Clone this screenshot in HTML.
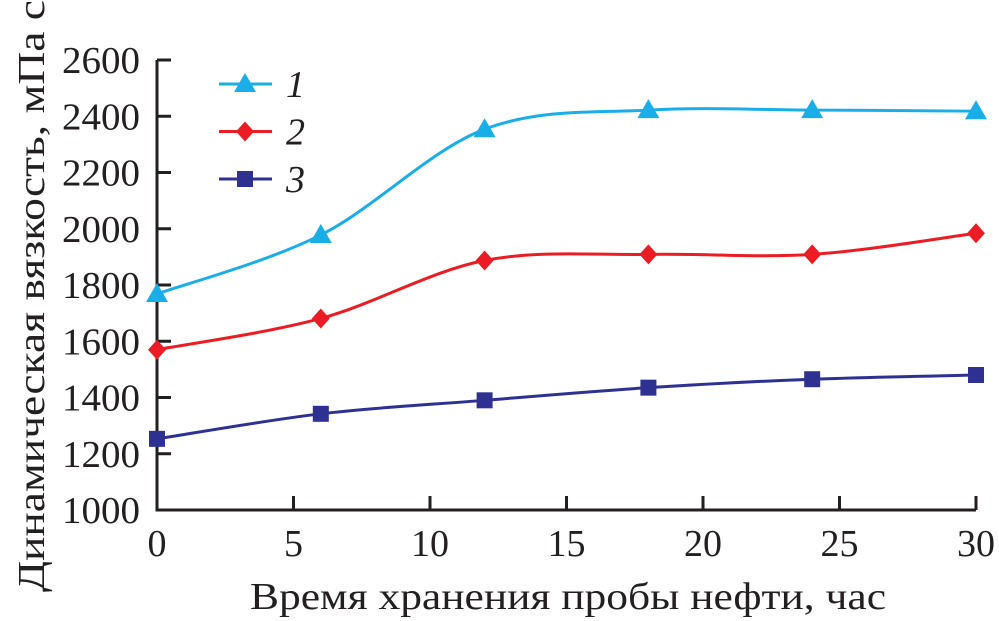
<!DOCTYPE html>
<html><head><meta charset="utf-8"><style>
html,body{margin:0;padding:0;background:#fff;overflow:hidden;}
svg{display:block;font-family:"Liberation Serif","DejaVu Serif",serif;}
</style></head><body>
<svg width="999" height="621" viewBox="0 0 999 621">
<g id="axes"></g>
<g id="series"></g>
<g id="legend"></g>
<text x="250" y="609" font-size="38" textLength="636" lengthAdjust="spacingAndGlyphs" fill="#231f20">Время хранения пробы нефти, час</text>
<text transform="translate(44,592) rotate(-90)" font-size="38" textLength="592" lengthAdjust="spacingAndGlyphs" fill="#231f20">Динамическая вязкость, мПа с</text>
</svg>
<script>
const xValues=[0,6,12,18,24,30];
const series1=[1768,1978,2354,2422,2422,2418];
const series2=[1570,1681,1887,1909,1909,1984];
const series3=[1253,1342,1390,1435,1465,1480];
const xTicks=[0,5,10,15,20,25,30];
const yTicks=[1000,1200,1400,1600,1800,2000,2200,2400,2600];
const legendLabels=["1","2","3"];
const colors=["#1aaee8","#ec1c24","#2e3192"];
const NS="http://www.w3.org/2000/svg";
const X0=157,X1=976,Y0=510,Y1=60;
const sx=v=>X0+(v-0)/30*(X1-X0);
const sy=v=>Y0-(v-1000)/1600*(Y0-Y1);
function mk(t,a,p){const e=document.createElementNS(NS,t);for(const k in a)e.setAttribute(k,a[k]);p.appendChild(e);return e;}
const ax=document.getElementById('axes');
let e=mk('path',{d:`M${X0},${Y1}V${Y0}H${X1}`,fill:'none',stroke:'#231f20','stroke-width':3},ax);


yTicks.forEach(v=>{
 let t=mk('line',{x1:X0,x2:X0+14,y1:sy(v),y2:sy(v),stroke:'#231f20','stroke-width':3},ax);
 
 
 let l=mk('text',{x:X0-17,y:sy(v)+13,'font-size':38,'text-anchor':'end',fill:'#231f20',textLength:78,lengthAdjust:'spacingAndGlyphs'},ax);
 l.textContent=v;
 
 
});
xTicks.forEach(v=>{
 let t=mk('line',{x1:sx(v),x2:sx(v),y1:Y0,y2:Y0-14,stroke:'#231f20','stroke-width':3},ax);
 
 
 let l=mk('text',{x:sx(v),y:Y0+46,'font-size':38,'text-anchor':'middle',fill:'#231f20'},ax);
 l.textContent=v;
 
 
});
function smooth(pts){
 let d=`M${pts[0][0]},${pts[0][1]}`;
 for(let i=0;i<pts.length-1;i++){
  const p0=pts[i-1]||pts[i],p1=pts[i],p2=pts[i+1],p3=pts[i+2]||p2;
  const c1=[p1[0]+(p2[0]-p0[0])/6,p1[1]+(p2[1]-p0[1])/6];
  const c2=[p2[0]-(p3[0]-p1[0])/6,p2[1]-(p3[1]-p1[1])/6];
  d+=`C${c1[0]},${c1[1]} ${c2[0]},${c2[1]} ${p2[0]},${p2[1]}`;
 }
 return d;
}
function marker(k,x,y,c,p){
 let m;
 if(k===0)m=mk('polygon',{points:`${x},${y-11} ${x+11},${y+8} ${x-11},${y+8}`,fill:c},p);
 else if(k===1)m=mk('polygon',{points:`${x},${y-10} ${x+9},${y} ${x},${y+10} ${x-9},${y}`,fill:c},p);
 else m=mk('rect',{x:x-8,y:y-8,width:16,height:16,fill:c},p);
 return m;
}
const sg=document.getElementById('series');
[series1,series2,series3].forEach((s,k)=>{
 const pts=xValues.map((x,i)=>[sx(x),sy(s[i])]);
 let l=mk('path',{d:smooth(pts),fill:'none',stroke:colors[k],'stroke-width':3},sg);
 
 
 pts.forEach(p=>{
  let m=marker(k,p[0],p[1],colors[k],sg);
  
  
 });
});
const lg=document.getElementById('legend');
legendLabels.forEach((t,k)=>{
 const y=84+k*47.5;
 let l=mk('line',{x1:219,x2:272,y1:y,y2:y,stroke:colors[k],'stroke-width':3},lg);
 
 
 let m=marker(k,245,y,colors[k],lg);
 
 
 let tx=mk('text',{x:286,y:y+13,'font-size':38,'font-style':'italic',fill:'#231f20'},lg);
 tx.textContent=t;
 
 
});
</script>
</body></html>
